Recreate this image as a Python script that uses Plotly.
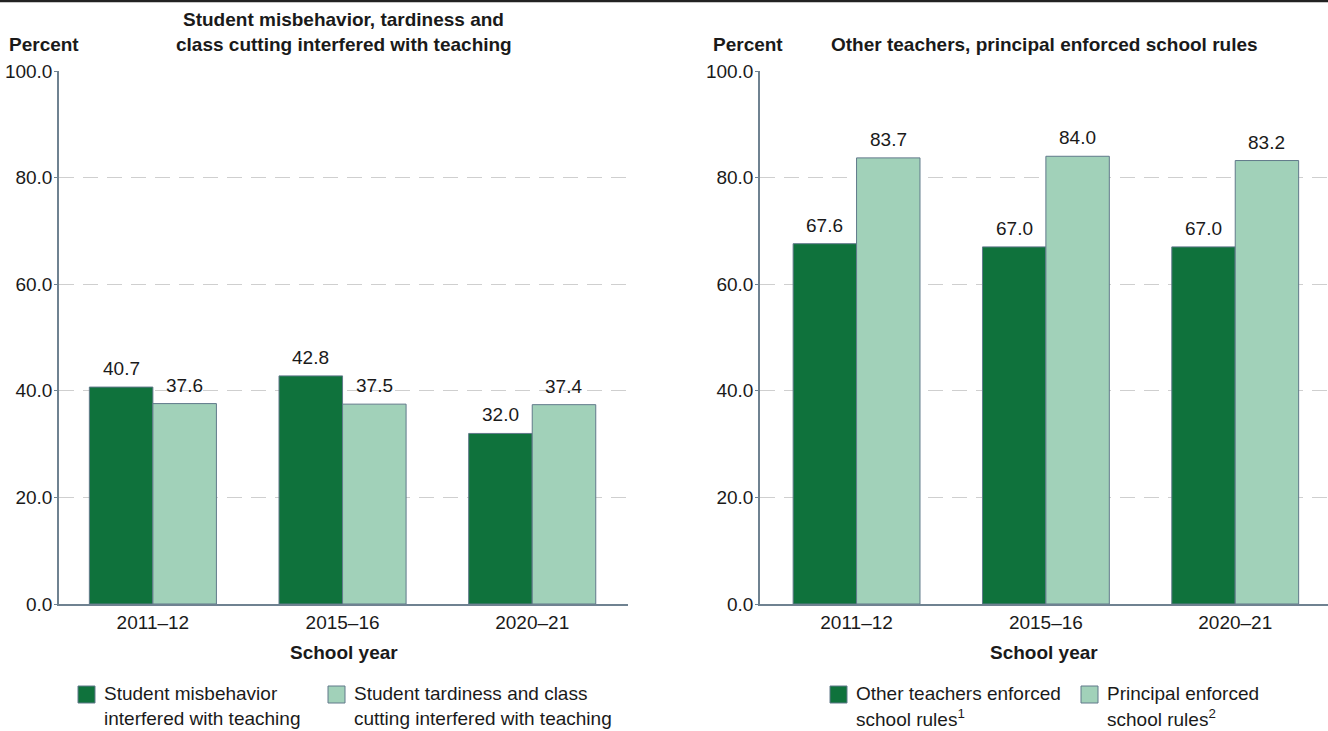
import plotly.graph_objects as go

years = ["2011–12", "2015–16", "2020–21"]

left_series_names = ["Student misbehavior interfered with teaching",
                     "Student tardiness and class cutting interfered with teaching"]
misbehavior = [40.7, 42.8, 32.0]
tardiness = [37.6, 37.5, 37.4]

right_series_names = ["Other teachers enforced school rules",
                      "Principal enforced school rules"]
other_teachers = [67.6, 67.0, 67.0]
principal = [83.7, 84.0, 83.2]

y_ticks = [0, 20, 40, 60, 80, 100]

left_title = ["Student misbehavior, tardiness and", "class cutting interfered with teaching"]
right_title = "Other teachers, principal enforced school rules"
left_legend = [["Student misbehavior", "interfered with teaching"],
               ["Student tardiness and class", "cutting interfered with teaching"]]
right_legend = [["Other teachers enforced", "school rules<sup>1</sup>"],
                ["Principal enforced", "school rules<sup>2</sup>"]]

DARK = "#0f723c"
LIGHT = "#a1d1b9"
EDGE = "#60798a"
AXIS = "#6f8291"
GRID = "#cfcfcf"
TXT = "#1a1a1a"
FONT = "Liberation Sans, Arial, sans-serif"
FS = 19

W, H = 1328, 731
ML, MR, MT, MB = 59, 0, 71, 127
PW = W - ML - MR
PH = H - MT - MB

BARGAP = 0.33


def px(x):
    return (x - ML) / PW


def py(y):
    return (H - MB - y) / PH


left_dom = [0, px(628)]
right_dom = [px(760), 1]
left_w = (left_dom[1] - left_dom[0]) * PW
right_w = (right_dom[1] - right_dom[0]) * PW

fig = go.Figure()
ann = []
shapes = []


def add_bars(vals, name, color, xa, ya, side, sub_w):
    fig.add_trace(go.Bar(
        x=years, y=vals, name=name, xaxis=xa, yaxis=ya,
        marker=dict(color=color, line=dict(color=EDGE, width=1)),
        showlegend=False, hoverinfo="skip",
    ))
    shift = side * (1 - BARGAP) / 4 * sub_w / 3
    for cat, v in zip(years, vals):
        ann.append(dict(x=cat, y=v, xref=xa, yref=ya, text=f"{v:.1f}",
                        showarrow=False, xanchor="center", yanchor="bottom",
                        xshift=shift, yshift=6,
                        font=dict(size=FS, color=TXT, family=FONT)))


add_bars(misbehavior, left_series_names[0], DARK, "x", "y", -1, left_w)
add_bars(tardiness, left_series_names[1], LIGHT, "x", "y", 1, left_w)
add_bars(other_teachers, right_series_names[0], DARK, "x2", "y2", -1, right_w)
add_bars(principal, right_series_names[1], LIGHT, "x2", "y2", 1, right_w)

xcommon = dict(showline=True, linecolor=AXIS, linewidth=1.5, ticks="",
               tickfont=dict(size=FS, color=TXT, family=FONT), showgrid=False,
               fixedrange=True)
ycommon = dict(range=[0, 100], tickvals=y_ticks, ticktext=[f"{v:.1f}" for v in y_ticks],
               showline=True, linecolor=AXIS, linewidth=1.5, ticks="outside",
               ticklen=3, tickcolor=AXIS, tickwidth=1, ticklabelstandoff=-2,
               tickfont=dict(size=FS, color=TXT, family=FONT),
               showgrid=True, gridcolor=GRID, gridwidth=1, griddash="15px,9px",
               zeroline=False, fixedrange=True)

fig.update_layout(
    width=W, height=H,
    margin=dict(l=ML, r=MR, t=MT, b=MB, pad=0),
    paper_bgcolor="white", plot_bgcolor="white",
    barmode="group", bargap=BARGAP, bargroupgap=0,
    font=dict(family=FONT, color=TXT),
    xaxis=dict(domain=left_dom, anchor="y", range=[-0.495, 2.505], **xcommon),
    yaxis=dict(domain=[0, 1], anchor="x", **ycommon),
    xaxis2=dict(domain=right_dom, anchor="y2", range=[-0.51, 2.49], **xcommon),
    yaxis2=dict(domain=[0, 1], anchor="x2", **ycommon),
    showlegend=False,
)

# top rule
shapes.append(dict(type="line", xref="paper", yref="paper", x0=px(0), x1=px(W),
                   y0=py(1), y1=py(1), line=dict(color="#222222", width=2.5)))


def text(x, y, s, size=FS, bold=False, xanchor="left", xref="paper"):
    ann.append(dict(x=x, y=py(y), xref=xref, yref="paper", text=f"<b>{s}</b>" if bold else s,
                    showarrow=False, xanchor=xanchor, yanchor="middle",
                    font=dict(size=size, color=TXT, family=FONT)))


# Percent labels
text(px(7), 45, "Percent", bold=True)
text(px(711), 45, "Percent", bold=True)

# titles
text(0.5, 20, left_title[0], bold=True, xanchor="center", xref="x domain")
text(0.5, 45, left_title[1], bold=True, xanchor="center", xref="x domain")
text(0.5, 45, right_title, bold=True, xanchor="center", xref="x2 domain")

# axis titles
text(0.5, 652, "School year", bold=True, xanchor="center", xref="x domain")
text(0.5, 652, "School year", bold=True, xanchor="center", xref="x2 domain")


# legends
def legend_item(sq_x, lines, color):
    shapes.append(dict(type="rect", xref="paper", yref="paper",
                       x0=px(sq_x), x1=px(sq_x + 17), y0=py(703), y1=py(686),
                       fillcolor=color, line=dict(color=EDGE, width=1)))
    text(px(sq_x + 24), 694, lines[0])
    text(px(sq_x + 24), 718, lines[1])


legend_item(78, left_legend[0], DARK)
legend_item(328, left_legend[1], LIGHT)
legend_item(830, right_legend[0], DARK)
legend_item(1081, right_legend[1], LIGHT)

fig.update_layout(annotations=ann, shapes=shapes)

fig.write_html("out.html")
